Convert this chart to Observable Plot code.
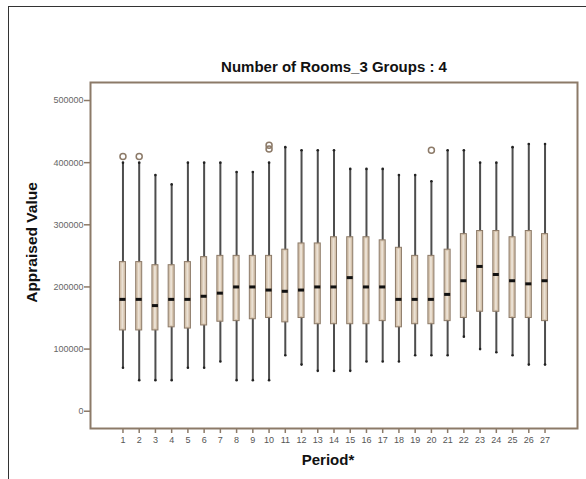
<!DOCTYPE html>
<html>
<head>
<meta charset="utf-8">
<script src="https://cdn.jsdelivr.net/npm/d3@7"></script>
<script src="https://cdn.jsdelivr.net/npm/@observablehq/plot@0.6"></script>
<style>
  html, body { margin: 0; padding: 0; background: #fff; }
  #wrap { position: relative; width: 586px; height: 479px; overflow: hidden; }
  #outer { position: absolute; left: 8px; top: 6px; width: 600px; height: 500px;
           border-top: 1.5px solid #333; border-left: 1.5px solid #333; pointer-events: none; }
  svg { font-family: "Liberation Sans", Arial, sans-serif; }
</style>
</head>
<body>
<div id="wrap"><div id="outer"></div></div>
<script>
const titleText = "Number of Rooms_3 Groups : 4";
const xLabel = "Period*";
const yLabel = "Appraised Value";

const periods = [1,2,3,4,5,6,7,8,9,10,11,12,13,14,15,16,17,18,19,20,21,22,23,24,25,26,27];
const lowWhisker = [70000,50000,50000,50000,70000,70000,80000,50000,50000,50000,90000,75000,65000,65000,65000,80000,80000,80000,90000,90000,90000,120000,100000,95000,90000,75000,75000];
const q1 = [130000,130000,130000,135000,133000,138000,144000,145000,148000,150000,143000,150000,140000,140000,140000,140000,145000,135000,140000,140000,145000,150000,160000,160000,150000,150000,145000];
const medians = [180000,180000,170000,180000,180000,185000,190000,200000,200000,195000,193000,195000,200000,200000,215000,200000,200000,180000,180000,180000,188000,210000,233000,220000,210000,205000,210000];
const q3 = [240000,240000,235000,235000,240000,248000,250000,250000,250000,250000,260000,270000,270000,280000,280000,280000,275000,263000,250000,250000,260000,285000,290000,290000,280000,290000,285000];
const highWhisker = [400000,400000,380000,365000,400000,400000,400000,385000,385000,400000,425000,420000,420000,420000,390000,390000,390000,380000,380000,370000,420000,420000,400000,400000,425000,430000,430000];
const outlierPeriod = [1,2,10,10,20];
const outlierValue = [410000,410000,428000,422000,420000];
const yTicks = [0,100000,200000,300000,400000,500000];

const half = 0.185;
const inner = 0.06;
const brown = "#8c7a68";
const fmt = d3.format("d");

const chart = Plot.plot({
  width: 586,
  height: 479,
  marginLeft: 90,
  marginRight: 9,
  marginTop: 82,
  marginBottom: 51,
  style: {fontFamily: "'Liberation Sans', Arial, sans-serif", background: "transparent"},
  x: {type: "linear", domain: [-1, 29]},
  y: {domain: [-27800, 529000]},
  marks: [
    Plot.axisY({ticks: yTicks, tickFormat: fmt, tickSize: 6, tickPadding: 1, stroke: brown, strokeWidth: 1.5, fill: "#666", fontSize: 9, label: null}),
    Plot.axisX({ticks: periods, tickFormat: fmt, tickSize: 5, tickPadding: 3, stroke: brown, strokeWidth: 1.5, fill: "#555", fontSize: 9, label: null}),
    Plot.ruleX(periods, {x: periods, y1: lowWhisker, y2: highWhisker, stroke: "#4d4d4d", strokeWidth: 2}),
    Plot.dot(periods, {x: periods, y: lowWhisker, r: 1.3, fill: "#222"}),
    Plot.dot(periods, {x: periods, y: highWhisker, r: 1.3, fill: "#222"}),
    Plot.rect(periods, {x1: periods.map(p => p - half), x2: periods.map(p => p + half), y1: q1, y2: q3, fill: "#d5c3ad", stroke: brown, strokeWidth: 1}),
    Plot.rect(periods, {x1: periods.map(p => p - inner), x2: periods.map(p => p + inner), y1: q1, y2: q3, fill: "#ebe1d4", insetTop: 1.5, insetBottom: 1.5}),
    Plot.ruleY(periods, {x1: periods.map(p => p - half), x2: periods.map(p => p + half), y: medians, stroke: "#111", strokeWidth: 3}),
    Plot.dot(outlierPeriod, {x: outlierPeriod, y: outlierValue, r: 3, stroke: brown, strokeWidth: 1.5, fill: "none"}),
    Plot.frame({stroke: brown, strokeWidth: 2}),
    Plot.text([titleText], {frameAnchor: "top", lineAnchor: "middle", dy: -15, fontSize: 15, fontWeight: "bold", fill: "#111"}),
    Plot.text([xLabel], {frameAnchor: "bottom", lineAnchor: "middle", dx: -6, dy: 32, fontSize: 15, fontWeight: "bold", fill: "#111"}),
    Plot.text([yLabel], {frameAnchor: "left", textAnchor: "middle", lineAnchor: "middle", dx: -58, dy: -13, rotate: -90, fontSize: 15.5, fontWeight: "bold", fill: "#111"})
  ]
});
document.getElementById("wrap").prepend(chart);
</script>
</body>
</html>
